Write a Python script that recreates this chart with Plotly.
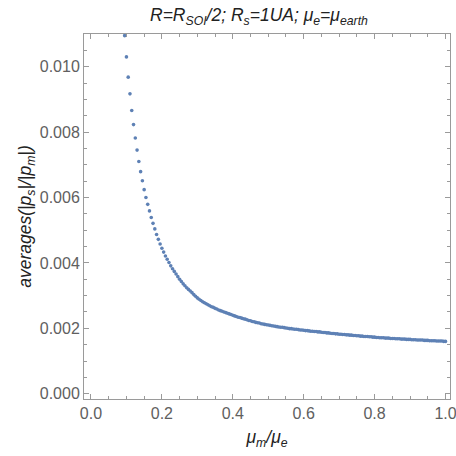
import plotly.graph_objects as go

mu_ratio = [
    0.095, 0.100, 0.105, 0.110, 0.115, 0.120, 0.125, 0.130, 0.135, 0.140,
    0.145, 0.150, 0.155, 0.160, 0.165, 0.170, 0.175, 0.180, 0.185, 0.190,
    0.195, 0.200, 0.205, 0.210, 0.215, 0.220, 0.225, 0.230, 0.235, 0.240,
    0.245, 0.250, 0.255, 0.260, 0.265, 0.270, 0.275, 0.280, 0.285, 0.290,
    0.295, 0.300, 0.305, 0.310, 0.315, 0.320, 0.325, 0.330, 0.335, 0.340,
    0.345, 0.350, 0.355, 0.360, 0.365, 0.370, 0.375, 0.380, 0.385, 0.390,
    0.395, 0.400, 0.405, 0.410, 0.415, 0.420, 0.425, 0.430, 0.435, 0.440,
    0.445, 0.450, 0.455, 0.460, 0.465, 0.470, 0.475, 0.480, 0.485, 0.490,
    0.495, 0.500, 0.505, 0.510, 0.515, 0.520, 0.525, 0.530, 0.535, 0.540,
    0.545, 0.550, 0.555, 0.560, 0.565, 0.570, 0.575, 0.580, 0.585, 0.590,
    0.595, 0.600, 0.605, 0.610, 0.615, 0.620, 0.625, 0.630, 0.635, 0.640,
    0.645, 0.650, 0.655, 0.660, 0.665, 0.670, 0.675, 0.680, 0.685, 0.690,
    0.695, 0.700, 0.705, 0.710, 0.715, 0.720, 0.725, 0.730, 0.735, 0.740,
    0.745, 0.750, 0.755, 0.760, 0.765, 0.770, 0.775, 0.780, 0.785, 0.790,
    0.795, 0.800, 0.805, 0.810, 0.815, 0.820, 0.825, 0.830, 0.835, 0.840,
    0.845, 0.850, 0.855, 0.860, 0.865, 0.870, 0.875, 0.880, 0.885, 0.890,
    0.895, 0.900, 0.905, 0.910, 0.915, 0.920, 0.925, 0.930, 0.935, 0.940,
    0.945, 0.950, 0.955, 0.960, 0.965, 0.970, 0.975, 0.980, 0.985, 0.990,
    0.995, 1.000,
]

avg_ratio = [
    0.01095, 0.01030, 0.00968, 0.00917, 0.00866, 0.00823, 0.00782, 0.00745, 0.00710, 0.00679,
    0.00651, 0.00624, 0.00600, 0.00579, 0.00559, 0.00539, 0.00521, 0.00504, 0.00487, 0.00472,
    0.00458, 0.00445, 0.00433, 0.00421, 0.00411, 0.00401, 0.00391, 0.00382, 0.00374, 0.00366,
    0.00358, 0.00350, 0.00343, 0.00336, 0.00330, 0.00324, 0.00319, 0.00314, 0.00309, 0.00303,
    0.00298, 0.00293, 0.00289, 0.00285, 0.00281, 0.00278, 0.00275, 0.00272, 0.00269, 0.00266,
    0.00264, 0.00261, 0.00259, 0.00256, 0.00254, 0.00252, 0.00250, 0.00248, 0.00246, 0.00244,
    0.00242, 0.00240, 0.00238, 0.00236, 0.00234, 0.00233, 0.00231, 0.00229, 0.00228, 0.00226,
    0.00224, 0.00223, 0.00221, 0.00220, 0.00218, 0.00217, 0.00216, 0.00214, 0.00213, 0.00212,
    0.00211, 0.00210, 0.00209, 0.00208, 0.00207, 0.00206, 0.00205, 0.00204, 0.00203, 0.00203,
    0.00202, 0.00201, 0.00200, 0.00199, 0.00199, 0.00198, 0.00197, 0.00197, 0.00196, 0.00195,
    0.00195, 0.00194, 0.00193, 0.00193, 0.00192, 0.00191, 0.00191, 0.00190, 0.00190, 0.00189,
    0.00189, 0.00188, 0.00187, 0.00187, 0.00186, 0.00186, 0.00185, 0.00184, 0.00184, 0.00183,
    0.00183, 0.00182, 0.00182, 0.00181, 0.00181, 0.00180, 0.00180, 0.00179, 0.00179, 0.00178,
    0.00178, 0.00177, 0.00177, 0.00176, 0.00176, 0.00175, 0.00175, 0.00175, 0.00174, 0.00174,
    0.00173, 0.00173, 0.00172, 0.00172, 0.00171, 0.00171, 0.00171, 0.00170, 0.00170, 0.00170,
    0.00169, 0.00169, 0.00169, 0.00168, 0.00168, 0.00168, 0.00167, 0.00167, 0.00167, 0.00166,
    0.00166, 0.00166, 0.00165, 0.00165, 0.00165, 0.00164, 0.00164, 0.00164, 0.00164, 0.00163,
    0.00163, 0.00163, 0.00162, 0.00162, 0.00162, 0.00162, 0.00161, 0.00161, 0.00161, 0.00161,
    0.00160, 0.00160,
]

x_tickvals = [0.0, 0.2, 0.4, 0.6, 0.8, 1.0]
y_tickvals = [0.000, 0.002, 0.004, 0.006, 0.008, 0.010]

FONT = "Liberation Sans, Arial, sans-serif"
FRAME = "#9a9a9a"
TICKTXT = "#606060"

fig = go.Figure()
fig.add_trace(go.Scatter(
    x=mu_ratio, y=avg_ratio, mode="markers",
    marker=dict(color="#5E81B5", size=3.6, line=dict(width=0)),
    showlegend=False, cliponaxis=True,
))

axis_common = dict(
    showgrid=False, zeroline=False, showline=True, linecolor=FRAME, linewidth=1,
    mirror="allticks", ticks="inside", ticklen=5, tickwidth=1, tickcolor=FRAME,
    tickfont=dict(family=FONT, size=16, color=TICKTXT),
    ticklabeloverflow="allow",
)

fig.update_xaxes(
    range=[-0.0197, 1.0127], tickvals=x_tickvals, tickformat=".1f",
    minor=dict(dtick=0.05, ticks="inside", ticklen=3, tickcolor=FRAME, showgrid=False),
    title=dict(text="<i>μ<sub>m</sub>/μ<sub>e</sub></i>", font=dict(family=FONT, size=17.5, color="#222"), standoff=9),
    **axis_common,
)
fig.update_yaxes(
    range=[-0.000162, 0.0110], tickvals=y_tickvals, tickformat=".3f",
    minor=dict(dtick=0.0005, ticks="inside", ticklen=3, tickcolor=FRAME, showgrid=False),
    title=dict(text="<i>averages(|p<sub>s</sub>|/|p<sub>m</sub>|)</i>", font=dict(family=FONT, size=17.5, color="#222"), standoff=3),
    **axis_common,
)

fig.update_layout(
    width=456, height=456,
    margin=dict(l=84, r=6, t=34, b=57, autoexpand=False),
    paper_bgcolor="white", plot_bgcolor="white",
    title=dict(
        text="<i>R=R<sub>SOI</sub>/2; R<sub>s</sub>=1UA; μ<sub>e</sub>=μ<sub>earth</sub></i>",
        x=150 / 456, xanchor="left", y=0.967, yanchor="middle",
        font=dict(family=FONT, size=17.5, color="#222"),
    ),
)

fig.write_html("out.html")
